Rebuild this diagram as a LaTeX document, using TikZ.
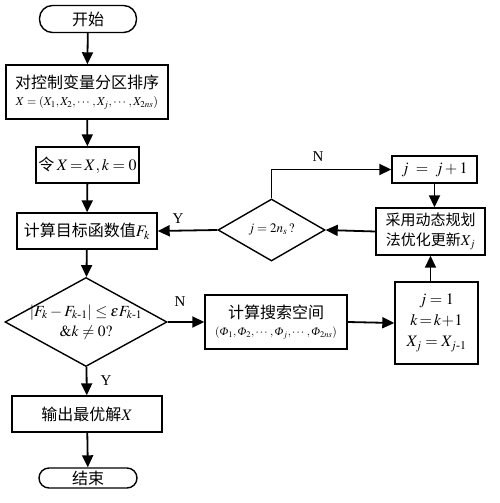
\documentclass[tikz,border=0pt]{standalone}
\usepackage{amsmath}
\usepackage{mathptmx}
\usepackage[no-math]{fontspec}
\setmainfont{Liberation Serif}
\newfontfamily\cjk{Noto Sans CJK SC}
\newcommand{\myPhi}{\text{\itshape Φ}}
\usetikzlibrary{shapes.geometric,arrows.meta}
\begin{document}
\begin{tikzpicture}[x=1pt,y=-1pt,
  box/.style={draw,line width=1.4pt,rectangle,inner sep=1pt,align=center,font=\fontsize{16}{19}\selectfont},
  term/.style={box,rounded corners=10pt},
  dia/.style={draw,line width=1.4pt,diamond,inner sep=0pt},
  arr/.style={line width=1.8pt,-{Triangle[length=12pt,width=11pt]}},
  lbl/.style={font=\fontsize{15}{17}\selectfont}]
\useasboundingbox (0,0) rectangle (500,503);
\node[term,minimum width=97pt,minimum height=27pt,rounded corners=13pt] (start) at (88,19) {\cjk 开始};
\node[box,minimum width=162pt,minimum height=54pt] (b1) at (87,92) {{\cjk 对控制变量分区排序}\\[-2pt]{\fontsize{12}{14}\selectfont$X=(X_1,X_2,\cdots,X_j,\cdots,X_{2ns})$}};
\node[box,minimum width=103pt,minimum height=36pt] (b2) at (87.5,165) {{\cjk 令}\,$X\!=\!X,k=0$};
\node[box,minimum width=140pt,minimum height=36pt] (b3) at (87,231) {{\cjk 计算目标函数值}$F_k$};
\node[dia,minimum width=162pt,minimum height=89pt] (d1) at (86,322) {};
\node[align=center,font=\fontsize{15.5}{20}\selectfont] (d1t) at (d1) {$\left|F_k-F_{k\text{-}1}\right|\le\varepsilon F_{k\text{-}1}$\\$\&k\neq0?$};
\node[box,minimum width=150pt,minimum height=36pt] (out) at (87,414) {{\cjk 输出最优解}$X$};
\node[term,minimum width=98pt,minimum height=20pt] (end) at (88,478) {\cjk 结束};
\node[box,minimum width=142pt,minimum height=54pt] (search) at (276,322) {{\cjk 计算搜索空间}\\[-2pt]{\fontsize{11.5}{13}\selectfont$(\myPhi_1,\myPhi_2,\cdots,\myPhi_j,\cdots,\myPhi_{2ns})$}};
\node[box,minimum width=83pt,minimum height=82pt,font=\fontsize{16}{21}\selectfont] (jk) at (436.5,323) {$j=1$\\$k\!=\!k\!+\!1$\\$X_j=X_{j\text{-}1}$};
\node[box,minimum width=109pt,minimum height=47pt,font=\fontsize{15}{20}\selectfont] (upd) at (430.5,231.5) {{\cjk 采用动态规划}\\{\cjk 法优化更新}$X_j$};
\node[box,minimum width=85pt,minimum height=27pt] (jinc) at (434.5,169.5) {$j\;=\;j+1$};
\node[dia,minimum width=107pt,minimum height=62pt] (d2) at (271.5,230) {};
\node[font=\fontsize{13}{15}\selectfont] (d2t) at (d2) {$j=2n_s\,?$};
\draw[arr] (start) -- (b1);
\draw[arr] (b1) -- (b2);
\draw[arr] (b2) -- (b3);
\draw[arr] (b3) -- (d1);
\draw[arr] (d1) -- (out);
\draw[arr] (out) -- (end);
\draw[arr] (d1.east) -- (search.west);
\draw[arr] (search.east) -- (jk.west);
\draw[arr] (jk.north -| upd.south) -- (upd.south);
\draw[arr] (jinc.south) -- (jinc.south |- upd.north);
\draw[arr] (upd.west) -- (d2.east);
\draw[arr] (d2.west) -- (b3.east);
\draw[arr] (d2.north) |- (jinc.west);
\node[lbl] (yl1) at (106,381) {Y};
\node[lbl] (nl1) at (180,302) {N};
\node[lbl] (yl2) at (178,219) {Y};
\node[lbl] (nl2) at (318,157) {N};
\end{tikzpicture}
\end{document}
